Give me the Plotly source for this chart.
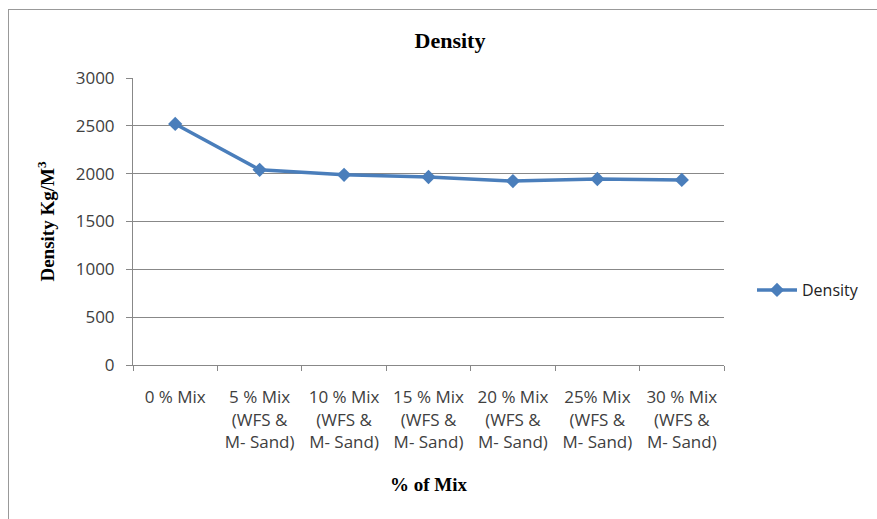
import plotly.graph_objects as go

categories = [
    "0 % Mix",
    "5 % Mix<br>(WFS &amp;<br>M- Sand)",
    "10 % Mix<br>(WFS &amp;<br>M- Sand)",
    "15 % Mix<br>(WFS &amp;<br>M- Sand)",
    "20 % Mix<br>(WFS &amp;<br>M- Sand)",
    "25% Mix<br>(WFS &amp;<br>M- Sand)",
    "30 % Mix<br>(WFS &amp;<br>M- Sand)",
]
density = [2520, 2040, 1988, 1965, 1923, 1944, 1935]
y_ticks = [0, 500, 1000, 1500, 2000, 2500, 3000]

W, H = 877, 519
L, R, T, B = 133, 153, 78, 154
pw, ph = W - L - R, H - T - B

fig = go.Figure()
fig.add_trace(go.Scatter(
    x=categories, y=density, name="Density", mode="lines+markers",
    line=dict(color="#4A7EBB", width=3.5),
    marker=dict(symbol="diamond", size=11, color="#4A7EBB"),
))

sans = "Open Sans, Liberation Sans, sans-serif"
tickfont = dict(family=sans, size=17, color="#404040")
serif = "Liberation Serif, Times New Roman, serif"

fig.update_layout(
    width=W, height=H,
    margin=dict(l=L, r=R, t=T, b=B),
    paper_bgcolor="white", plot_bgcolor="white",
    showlegend=True,
    legend=dict(x=(752 - L) / pw, y=(365 - 290) / ph, xanchor="left", yanchor="middle",
                font=dict(family=sans, size=16, color="#222222"), itemwidth=40,
                bgcolor="rgba(0,0,0,0)"),
    title=dict(text="<b>Density</b>", x=450 / W, xanchor="center", y=1 - 40 / H, yanchor="middle",
               font=dict(family=serif, size=22, color="black")),
    xaxis=dict(
        type="category", range=[-0.5, 6.5], tickson="boundaries",
        ticks="outside", ticklen=5, tickcolor="#888888",
        showline=True, linecolor="#888888", linewidth=1,
        showgrid=False, tickfont=tickfont, tickangle=0, ticklabelstandoff=17,
        title=dict(text="<b>% of Mix</b>", font=dict(family=serif, size=19, color="black"), standoff=26),
    ),
    yaxis=dict(
        range=[0, 3000], tickvals=y_ticks, ticks="outside", ticklen=6, tickcolor="#888888",
        showline=True, linecolor="#888888", linewidth=1,
        showgrid=True, gridcolor="#888888", gridwidth=1, zeroline=False,
        tickfont=tickfont, ticklabelstandoff=8,
        title=dict(text="<b>Density Kg/M<sup>3</sup></b>", font=dict(family=serif, size=19, color="black"), standoff=16),
    ),
    shapes=[
        dict(type="line", xref="paper", yref="paper",
             x0=(8.5 - L) / pw, x1=(8.5 - L) / pw, y0=(365 - 9) / ph, y1=(365 - 530) / ph,
             line=dict(color="#999999", width=1)),
        dict(type="line", xref="paper", yref="paper",
             x0=(8.5 - L) / pw, x1=(890 - L) / pw, y0=(365 - 9.5) / ph, y1=(365 - 9.5) / ph,
             line=dict(color="#999999", width=1)),
    ],
)

fig.write_html("out.html")
